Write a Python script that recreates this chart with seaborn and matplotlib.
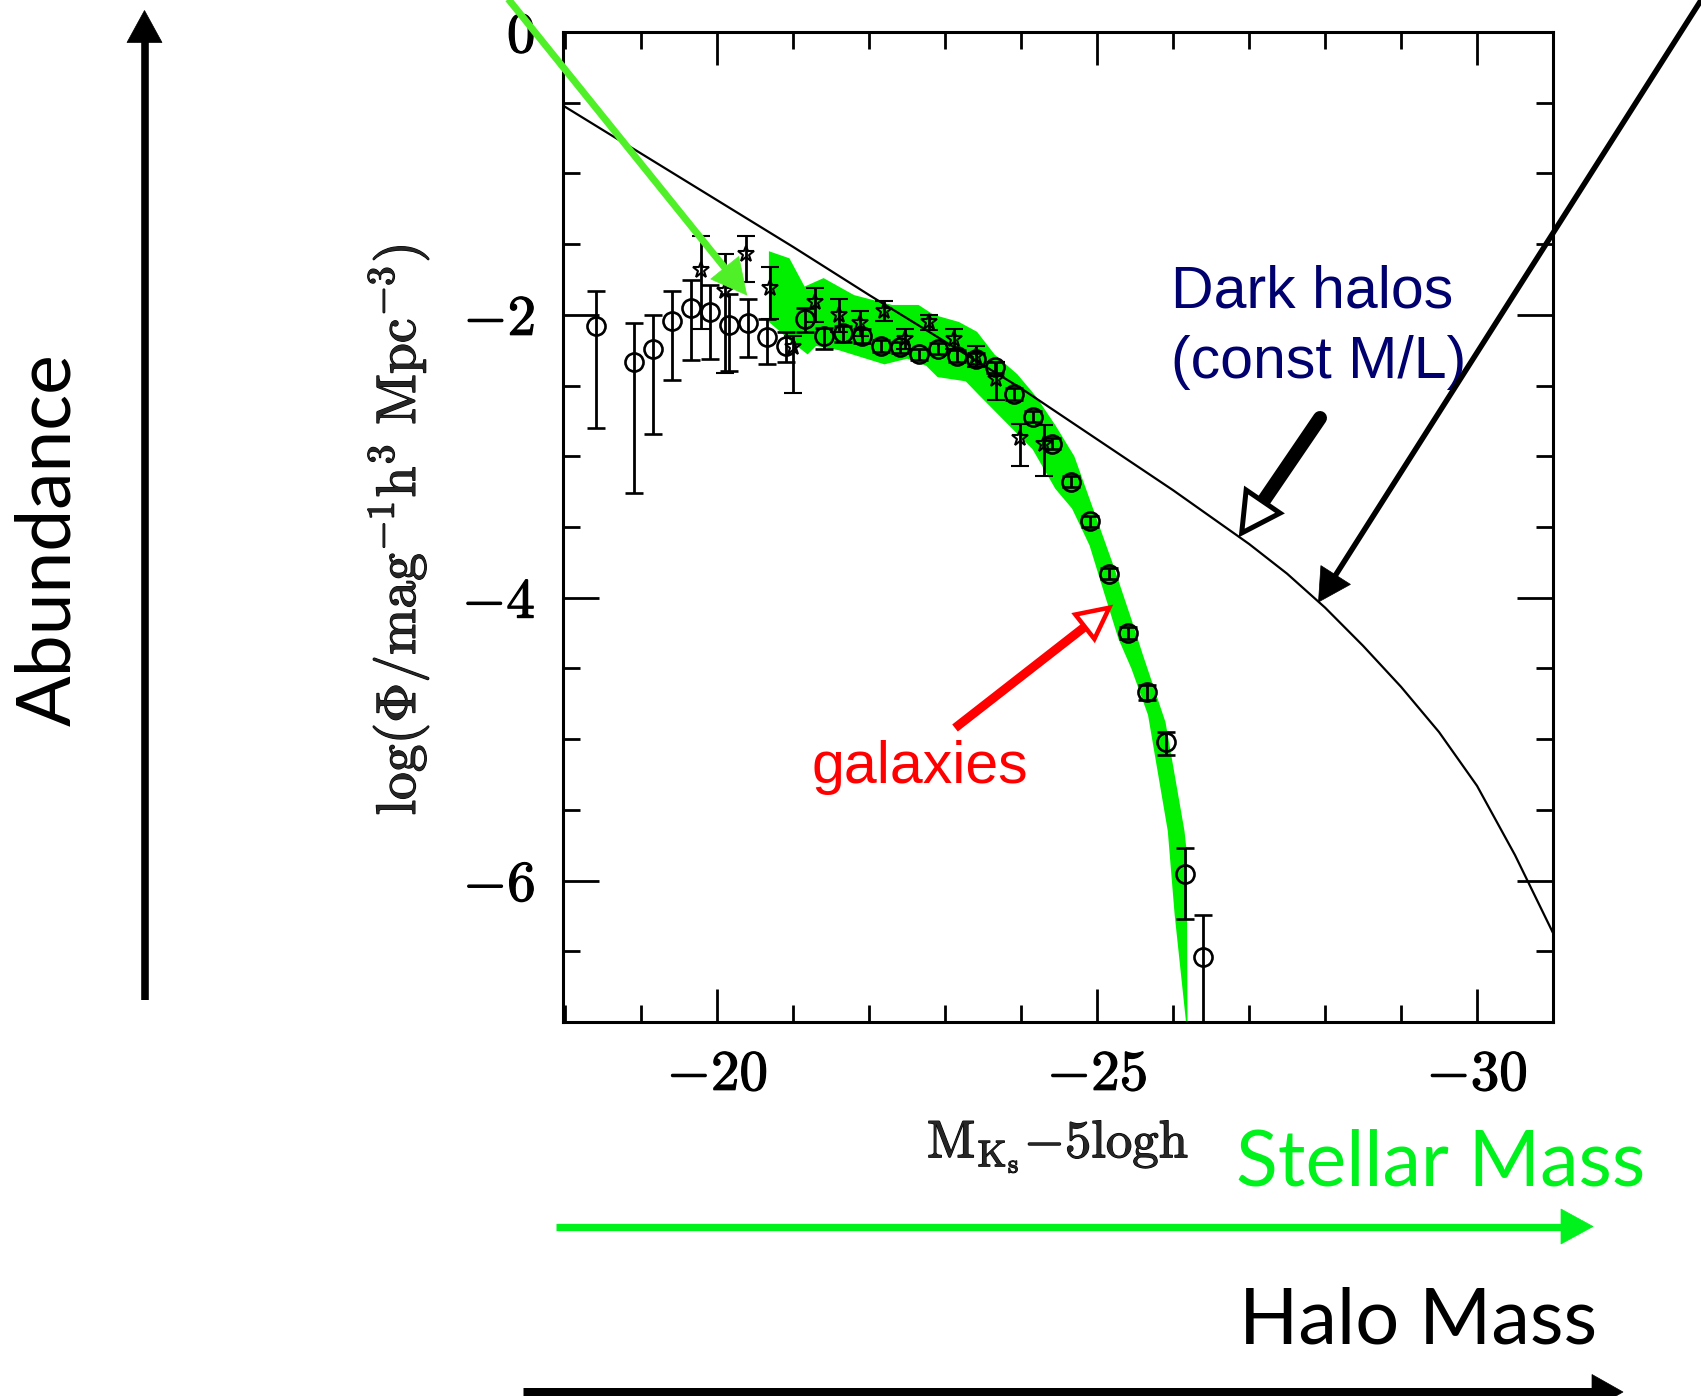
import numpy as np
import matplotlib
matplotlib.use("Agg")
import matplotlib.pyplot as plt
import matplotlib.patheffects as pe
from matplotlib.ticker import MultipleLocator
from matplotlib.transforms import Affine2D
from matplotlib.lines import Line2D
from matplotlib.patches import Polygon
import seaborn as sns

# ---- K-band luminosity function: open circles (sample 1) ----
circ_mag = [-18.40, -18.90, -19.15, -19.40, -19.65, -19.90, -20.15, -20.40,
            -20.65, -20.90, -21.15, -21.40, -21.65, -21.90, -22.15, -22.40,
            -22.65, -22.90, -23.15, -23.40, -23.65, -23.90, -24.15, -24.40,
            -24.65, -24.90, -25.15, -25.40, -25.65, -25.90, -26.15, -26.40]
circ_logphi = [-2.08, -2.33, -2.24, -2.04, -1.95, -1.98, -2.07, -2.06,
               -2.16, -2.22, -2.03, -2.15, -2.13, -2.15, -2.22, -2.23,
               -2.28, -2.24, -2.29, -2.31, -2.37, -2.56, -2.72, -2.91,
               -3.18, -3.46, -3.83, -4.25, -4.67, -5.02, -5.95, -6.54]
circ_hi = [-1.83, -2.06, -2.00, -1.83, -1.75, -1.79, -1.85, -1.89,
           -2.03, -2.12, -1.95, -2.09, -2.08, -2.10, -2.18, -2.19,
           -2.24, -2.20, -2.25, -2.27, -2.33, -2.52, -2.68, -2.87,
           -3.14, -3.42, -3.79, -4.21, -4.62, -4.95, -5.77, -6.24]
circ_lo = [-2.80, -3.26, -2.84, -2.46, -2.32, -2.31, -2.40, -2.30,
           -2.35, -2.33, -2.12, -2.24, -2.19, -2.20, -2.26, -2.27,
           -2.32, -2.28, -2.33, -2.35, -2.41, -2.60, -2.76, -2.95,
           -3.22, -3.50, -3.87, -4.29, -4.72, -5.11, -6.27, -7.30]

# ---- second sample: open stars ----
star_mag = [-19.79, -20.10, -20.38, -20.69, -21.00, -21.29, -21.60, -21.88,
            -22.20, -22.47, -22.79, -23.11, -23.40, -23.67, -23.98, -24.30]
star_logphi = [-1.68, -1.83, -1.57, -1.81, -2.23, -1.91, -2.00, -2.06,
               -1.97, -2.17, -2.05, -2.17, -2.29, -2.45, -2.87, -2.91]
star_hi = [-1.44, -1.57, -1.44, -1.66, -2.15, -1.81, -1.89, -1.97,
           -1.90, -2.10, -2.00, -2.10, -2.22, -2.33, -2.77, -2.78]
star_lo = [-2.10, -2.41, -1.77, -2.03, -2.55, -2.05, -2.12, -2.15,
           -2.04, -2.24, -2.11, -2.24, -2.37, -2.60, -3.07, -3.14]

# ---- dark halo abundance (constant M/L) ----
halo_mag = [-17.97, -19.0, -20.0, -21.0, -22.0, -23.0, -24.0, -25.0,
            -25.5, -26.0, -26.5, -27.0, -27.5, -28.0, -28.5, -29.0,
            -29.5, -30.0, -30.5, -31.0]
halo_logphi = [-0.52, -0.86, -1.19, -1.52, -1.86, -2.19, -2.52, -2.88,
               -3.06, -3.24, -3.43, -3.62, -3.83, -4.07, -4.34, -4.63,
               -4.95, -5.33, -5.82, -6.37]

# ---- model band: upper and lower envelope ----
band_top_mag = [-20.68, -20.95, -21.15, -21.40, -21.80, -22.30, -22.65, -22.85,
                -23.18, -23.42, -23.65, -23.95, -24.20, -24.45, -24.70, -24.90,
                -25.20, -25.45, -25.60, -25.90, -26.15, -26.18, -26.19]
band_top_logphi = [-1.55, -1.60, -1.80, -1.74, -1.86, -1.93, -1.93, -2.00,
                   -2.05, -2.12, -2.28, -2.42, -2.58, -2.78, -3.00, -3.30,
                   -3.75, -4.15, -4.40, -4.88, -5.65, -5.80, -7.00]
band_bot_mag = [-20.68, -21.00, -21.19, -21.30, -21.60, -22.20, -22.50, -22.75,
                -22.90, -23.27, -23.45, -23.80, -24.15, -24.45, -24.67, -24.90,
                -25.06, -25.28, -25.45, -25.67, -25.93, -26.02, -26.17]
band_bot_logphi = [-2.05, -2.20, -2.28, -2.22, -2.25, -2.35, -2.31, -2.36,
                   -2.44, -2.47, -2.57, -2.76, -2.95, -3.23, -3.37, -3.63,
                   -3.91, -4.29, -4.50, -4.83, -5.65, -6.24, -7.00]

# ---------------------------------------------------------------------------
sns.set_theme(style="ticks")
plt.rcParams.update({
    "font.family": ["cmr10", "DejaVu Serif"],
    "mathtext.fontset": "cm",
    "axes.formatter.use_mathtext": True,
    "axes.unicode_minus": True,
    "axes.linewidth": 2.2,
    "axes.edgecolor": "black",
})

W, H = 1701, 1396
fig = plt.figure(figsize=(W / 100, H / 100), dpi=100)
fig.patch.set_facecolor("white")
ax = fig.add_axes([563 / W, 1 - 1022 / H, 990 / W, 990 / H])
ax.set_facecolor("white")

BAND = "#00f000"
heavy = [pe.withStroke(linewidth=0.9, foreground="black")]

# model band
ax.fill(np.concatenate([band_top_mag, band_bot_mag[::-1]]),
        np.concatenate([band_top_logphi, band_bot_logphi[::-1]]),
        color=BAND, lw=0, zorder=1)

# dark halo curve
sns.lineplot(x=halo_mag, y=halo_logphi, color="black", lw=1.6, ax=ax, zorder=2)

# data points
c_y = np.array(circ_logphi)
ax.errorbar(circ_mag, c_y, yerr=[c_y - np.array(circ_lo), np.array(circ_hi) - c_y],
            fmt="o", ms=13, mfc="none", mec="black", mew=1.9,
            ecolor="black", elinewidth=2.0, capsize=6.5, capthick=2.0, zorder=4)
s_y = np.array(star_logphi)
ax.errorbar(star_mag, s_y, yerr=[s_y - np.array(star_lo), np.array(star_hi) - s_y],
            fmt="*", ms=12, mfc="none", mec="black", mew=1.5,
            ecolor="black", elinewidth=2.0, capsize=6.5, capthick=2.0, zorder=3)

ax.set_xlim(-17.97, -31.0)
ax.set_ylim(-7.0, 0.0)
ax.xaxis.set_major_locator(MultipleLocator(5))
ax.xaxis.set_minor_locator(MultipleLocator(1))
ax.yaxis.set_major_locator(MultipleLocator(2))
ax.yaxis.set_minor_locator(MultipleLocator(0.5))
ax.tick_params(which="both", direction="in", top=True, right=True,
               width=2.0, color="black", labelsize=41, labelcolor="black")
ax.tick_params(axis="x", which="major", length=24, pad=20)
ax.tick_params(axis="y", which="major", length=26, pad=20)
ax.tick_params(which="minor", length=12.5)
for sp in ax.spines.values():
    sp.set_visible(True)
    sp.set_linewidth(2.2)
    sp.set_color("black")

ax.set_xlabel(r"$\mathrm{M}_{\mathrm{K}_{\mathrm{s}}}\mathrm{-5logh}$", fontsize=38)
ax.xaxis.set_label_coords(0.5, -0.098)
ax.xaxis.label.set_va("top")
ax.set_ylabel(r"$\mathrm{log}(\Phi/\mathrm{mag}^{-1}\mathrm{h}^{3}\ \mathrm{Mpc}^{-3})$",
              fontsize=40)
ax.yaxis.set_label_coords(-0.132, 0.497)
for t in ax.get_xticklabels() + ax.get_yticklabels() + [ax.xaxis.label, ax.yaxis.label]:
    t.set_path_effects(heavy)

# ---- annotations in image pixel coordinates (origin at top left) ----
to_px = Affine2D().scale(1, -1).translate(0, H)


def arrow(tail, tip, shaft, head_len, head_w, color, open_head=False, edge=4.0,
          cap="butt"):
    tail = np.asarray(tail, float)
    tip = np.asarray(tip, float)
    d = tip - tail
    u = d / np.hypot(*d)
    n = np.array([-u[1], u[0]])
    base = tip - u * head_len
    end = base + u * (0 if open_head else 2)
    fig.add_artist(Line2D([tail[0], end[0]], [tail[1], end[1]], lw=shaft * 0.72,
                          color=color, solid_capstyle=cap, transform=to_px,
                          zorder=10))
    tri = [tip, base + n * head_w / 2, base - n * head_w / 2]
    fig.add_artist(Polygon(tri, closed=True, transform=to_px, zorder=11,
                           fc="white" if open_head else color, ec=color,
                           lw=edge * 0.72 if open_head else 0.5,
                           joinstyle="miter"))


arrow((505, -5), (746.7, 295), 7, 35, 36, "#50f028")
arrow((1705, -6), (1318.5, 602), 5.5, 32, 35, "black")
arrow((1320, 418), (1241.7, 533), 14, 38, 41, "black", open_head=True, edge=5,
      cap="round")
arrow((955, 728), (1109.3, 607.7), 9, 31, 31, "#ff0000", open_head=True, edge=4.5)
arrow((144.5, 1000), (144.5, 10.5), 7.6, 32, 35, "black")
arrow((556, 1226.5), (1593, 1226.5), 7.3, 32, 35, "#00f21d")
arrow((523, 1392), (1623, 1392), 9, 31, 35, "black")


def label(x, y, s, **kw):
    fig.text(x, y, s, transform=to_px, **kw)


label(49, 540, "Abundance", fontsize=54, family="Lato", rotation=90,
      ha="center", va="center", color="black")
label(1236, 1185, "Stellar Mass", fontsize=55.5, family="Lato",
      ha="left", va="baseline", color="#00f21d")
label(1239, 1343, "Halo Mass", fontsize=56, family="Lato",
      ha="left", va="baseline", color="black")
label(1171, 307, "Dark halos", fontsize=42.5, family="Liberation Sans",
      ha="left", va="baseline", color="#00006e")
label(1171, 378.5, "(const M/L)", fontsize=42.5, family="Liberation Sans",
      ha="left", va="baseline", color="#00006e")
label(811, 783, "galaxies", fontsize=42.5, family="Liberation Sans",
      ha="left", va="baseline", color="#ff0000")

fig.savefig("out.png", dpi=100, facecolor="white")
